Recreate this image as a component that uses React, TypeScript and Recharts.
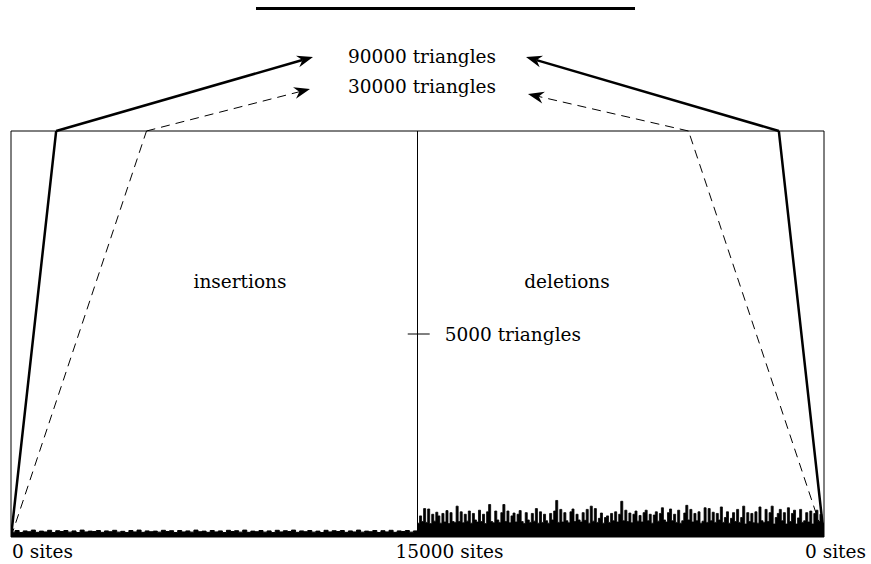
import React from 'react';
import {
  ComposedChart,
  Line,
  Area,
  XAxis,
  YAxis,
  ReferenceLine,
  ReferenceArea,
  ReferenceDot,
} from 'recharts';

// ---- axis / scale values ----
const TOTAL_OPS = 30000;
const HALF_OPS = 15000;
const Y_MAX = 10000; // top of the frame, in triangles
const SITE_TICKS = [0, 15000, 30000];
const SITE_TICK_LABELS = ['0 sites', '15000 sites', '0 sites'];

// ---- triangle counts (solid = all triangles, dashed = other count) ----
const solidSeries = [
  { x: 0, y: 0 },
  { x: 15000, y: 90000 },
  { x: 30000, y: 0 },
];
const dashedSeries = [
  { x: 0, y: 0 },
  { x: 15000, y: 30000 },
  { x: 30000, y: 0 },
];

// ---- per-step work (noise at the bottom), in triangles ----
const insertionWork = [
  120, 160, 110, 150, 130, 170, 115, 145, 125, 165,
  110, 155, 135, 160, 120, 150, 110, 170, 125, 145,
  135, 160, 115, 150, 130, 165, 120, 140, 110, 160,
  125, 170, 115, 150, 130, 145, 120, 165, 135, 155,
  110, 160, 125, 150, 120, 170, 130, 145, 115, 160,
  125, 150, 110, 165, 135, 155, 120, 170, 115, 145,
  130, 160, 120, 150, 110, 165, 125, 155, 135, 170,
  115, 150, 130, 160, 120, 145, 110, 165, 125, 155,
  135, 160, 115, 150, 125, 170, 120, 145, 130, 160,
  110, 155, 125, 165, 115, 150, 135, 160, 120, 150,
];
const deletionWork = [
  340, 520, 380, 700, 360, 690, 330, 560, 390, 610,
  520, 340, 580, 370, 650, 330, 600, 380, 360, 760,
  380, 620, 350, 560, 390, 640, 340, 580, 420, 370,
  660, 380, 560, 330, 620, 800, 380, 350, 640, 420,
  360, 600, 800, 380, 640, 350, 520, 590, 370, 560,
  650, 380, 330, 600, 420, 360, 580, 390, 700, 340,
  620, 360, 560, 400, 340, 580, 420, 640, 900, 360,
  680, 370, 600, 400, 350, 620, 690, 380, 560, 420,
  370, 600, 410, 680, 340, 760, 390, 700, 360, 460,
  590, 340, 480, 520, 360, 580, 400, 620, 370, 560,
  880, 400, 660, 380, 590, 350, 560, 640, 390, 530,
  370, 600, 660, 400, 560, 340, 540, 620, 390, 580,
  720, 420, 370, 600, 690, 400, 560, 360, 660, 340,
  400, 590, 780, 420, 680, 370, 580, 400, 620, 340,
  390, 720, 360, 700, 400, 610, 360, 580, 420, 740,
  360, 480, 620, 340, 460, 600, 380, 680, 360, 480,
  760, 320, 600, 380, 580, 350, 620, 340, 740, 400,
  360, 680, 380, 600, 760, 320, 480, 580, 680, 400,
  600, 320, 720, 380, 580, 660, 320, 470, 680, 360,
  400, 600, 370, 640, 320, 580, 660, 380, 560, 340,
];

// ---- annotation anchors (data units) ----
const ARROW_TARGETS = [
  { series: 'solid', side: 'left', x: 11144, y: 11823 },
  { series: 'dashed', side: 'left', x: 11033, y: 11034 },
  { series: 'solid', side: 'right', x: 19004, y: 11823 },
  { series: 'dashed', side: 'right', x: 19077, y: 10911 },
];
const COUNT_LABELS = [
  { text: '90000 triangles', x: 15166, y: 11675 },
  { text: '30000 triangles', x: 15166, y: 10936 },
];
const PHASE_LABELS = [
  { text: 'insertions', x: 8450, y: 6133 },
  { text: 'deletions', x: 20516, y: 6133 },
];
const MID_TICK_VALUE = 5000;
const MID_TICK_LABEL = '5000 triangles';

// ---- derived tables ----
const insertionData = [
  ...insertionWork.map((v, i) => ({ x: (i * HALF_OPS) / insertionWork.length, v })),
  { x: HALF_OPS, v: insertionWork[insertionWork.length - 1] },
];
const deletionData = [
  ...deletionWork.map((v, i) => ({ x: HALF_OPS + (i * HALF_OPS) / deletionWork.length, v })),
  { x: TOTAL_OPS, v: deletionWork[deletionWork.length - 1] },
];

const peakOf = (s: { x: number; y: number }[]) => s[1].y;
const crossX = (peak: number, side: string) => {
  const dx = (Y_MAX / peak) * HALF_OPS;
  return side === 'left' ? dx : TOTAL_OPS - dx;
};

const FONT = 'DejaVu Serif';
const FS = 18.5;

const ArrowShape = (dashed: boolean) => (props: any) => {
  const { x1, y1, x2, y2 } = props;
  const dx = x2 - x1;
  const dy = y2 - y1;
  const len = Math.hypot(dx, dy) || 1;
  const ux = dx / len;
  const uy = dy / len;
  const px = -uy;
  const py = ux;
  const L = 16;
  const W = 6;
  const N = 11;
  const bx = x2 - ux * L;
  const by = y2 - uy * L;
  const nx = x2 - ux * N;
  const ny = y2 - uy * N;
  const head = `M${x2},${y2} L${bx + px * W},${by + py * W} L${nx},${ny} L${bx - px * W},${by - py * W} Z`;
  return (
    <g>
      <line
        x1={x1}
        y1={y1}
        x2={nx}
        y2={ny}
        stroke="#000"
        strokeWidth={dashed ? 1 : 2.5}
        strokeDasharray={dashed ? '9 6' : undefined}
      />
      <path d={head} fill="#000" stroke="none" />
    </g>
  );
};

const TextDot = (text: string, anchor: string) => (props: any) => (
  <text
    x={props.cx}
    y={props.cy}
    textAnchor={anchor as any}
    fontFamily={FONT}
    fontSize={FS}
    fill="#000"
  >
    {text}
  </text>
);

const MidTickShape = (props: any) => {
  const { x1, y1, x2, y2 } = props;
  return (
    <g>
      <line x1={x1} y1={y1} x2={x2} y2={y2} stroke="#000" strokeWidth={1} />
      <text x={x2 + 15} y={y2 + 7} fontFamily={FONT} fontSize={FS} fill="#000">
        {MID_TICK_LABEL}
      </text>
    </g>
  );
};

const TICK_DX = [1, -22, -19];
const SiteTick = (props: any) => {
  const { x, y, index } = props;
  return (
    <text x={x + TICK_DX[index]} y={y + 13} fontFamily={FONT} fontSize={FS} fill="#000">
      {SITE_TICK_LABELS[index]}
    </text>
  );
};

export default function App() {
  return (
    <div style={{ position: 'absolute', left: 0, top: 0, width: 871, height: 564, background: '#fff' }}>
      <div
        style={{
          position: 'absolute',
          left: 256,
          top: 7,
          width: 379,
          height: 3,
          background: '#000',
        }}
      />
      <ComposedChart
        width={871}
        height={564}
        margin={{ top: 131, right: 47, bottom: 0, left: 11 }}
      >
        <XAxis
          type="number"
          dataKey="x"
          domain={[0, TOTAL_OPS]}
          ticks={SITE_TICKS}
          axisLine={false}
          tickLine={false}
          height={27}
          tick={<SiteTick />}
          interval={0}
          allowDataOverflow
        />
        <YAxis type="number" domain={[0, Y_MAX]} allowDataOverflow hide />
        <ReferenceArea
          x1={0}
          x2={TOTAL_OPS}
          y1={0}
          y2={Y_MAX}
          fill="none"
          fillOpacity={0}
          stroke="#000"
          strokeWidth={1}
          ifOverflow="visible"
        />
        <ReferenceLine x={HALF_OPS} stroke="#000" strokeWidth={1} />
        <ReferenceLine
          segment={[
            { x: 14640, y: MID_TICK_VALUE },
            { x: 15450, y: MID_TICK_VALUE },
          ]}
          ifOverflow="visible"
          shape={MidTickShape}
        />
        <Area
          data={insertionData}
          dataKey="v"
          type="stepAfter"
          stroke="#000"
          strokeWidth={1}
          fill="#000"
          fillOpacity={1}
          isAnimationActive={false}
        />
        <Area
          data={deletionData}
          dataKey="v"
          type="stepAfter"
          stroke="#000"
          strokeWidth={0.8}
          fill="#000"
          fillOpacity={1}
          isAnimationActive={false}
        />
        <Line
          data={solidSeries}
          dataKey="y"
          type="linear"
          stroke="#000"
          strokeWidth={2.5}
          dot={false}
          isAnimationActive={false}
        />
        <Line
          data={dashedSeries}
          dataKey="y"
          type="linear"
          stroke="#000"
          strokeWidth={1}
          strokeDasharray="9 6"
          dot={false}
          isAnimationActive={false}
        />
        {ARROW_TARGETS.map((a, i) => {
          const peak = peakOf(a.series === 'solid' ? solidSeries : dashedSeries);
          return (
            <ReferenceLine
              key={`arrow-${i}`}
              segment={[
                { x: crossX(peak, a.side), y: Y_MAX },
                { x: a.x, y: a.y },
              ]}
              ifOverflow="visible"
              shape={ArrowShape(a.series === 'dashed')}
            />
          );
        })}
        {COUNT_LABELS.map((l, i) => (
          <ReferenceDot
            key={`cl-${i}`}
            x={l.x}
            y={l.y}
            r={0}
            ifOverflow="visible"
            shape={TextDot(l.text, 'middle')}
          />
        ))}
        {PHASE_LABELS.map((l, i) => (
          <ReferenceDot
            key={`pl-${i}`}
            x={l.x}
            y={l.y}
            r={0}
            ifOverflow="visible"
            shape={TextDot(l.text, 'middle')}
          />
        ))}
      </ComposedChart>
    </div>
  );
}
